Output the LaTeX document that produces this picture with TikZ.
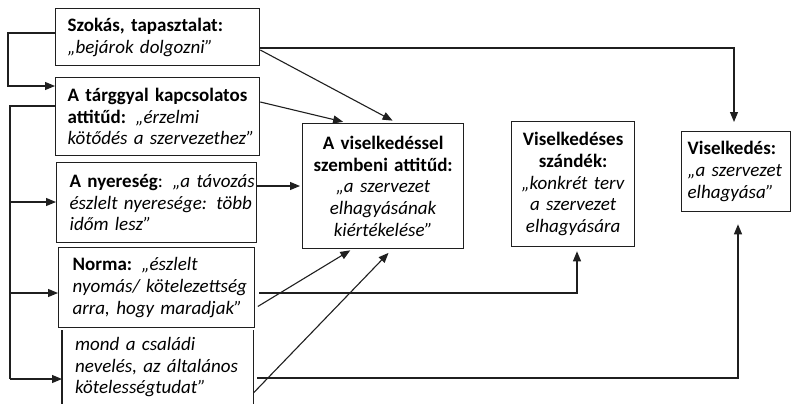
\documentclass[tikz,border=0pt]{standalone}
\usepackage{fontspec}
\setmainfont{Carlito}
\usetikzlibrary{arrows.meta}
\begin{document}
\begin{tikzpicture}[x=1pt,y=-1pt,
  txt/.style={font=\fontsize{19}{21.7}\selectfont, inner xsep=12pt, inner ysep=0pt, anchor=north west},
  box/.style={txt, draw=black!88, line width=1.3pt},
  lbox/.style={box, align=left},
  cbox/.style={box, align=center},
  edge/.style={draw=black!88, line width=1.3pt},
  link/.style={draw=black!88, line width=1.1pt},
  arr/.style={link, -{Triangle[length=10pt,width=8pt]}}
]
\useasboundingbox (0,0) rectangle (791,404);

% left column: the factors (each line kept whole in an \mbox)
\node[lbox, minimum width=204pt, minimum height=57pt, text width=180pt] (szokas) at (55,8)
  {\mbox{\textbf{Szokás, tapasztalat:}}\\\mbox{\textit{„bejárok dolgozni”}}};
\node[lbox, minimum width=204pt, minimum height=78pt, text width=180pt] (targy) at (55,77)
  {\mbox{\textbf{A tárggyal kapcsolatos}}\\\mbox{\textbf{attitűd:} \textit{„érzelmi}}\\\mbox{\textit{kötődés a szervezethez”}}};
\node[lbox, minimum width=200pt, minimum height=80pt, text width=174pt] (nyer) at (56,162)
  {\mbox{\textbf{A nyereség}: \textit{„a távozás}}\\\mbox{\textit{észlelt nyeresége: több}}\\\mbox{\textit{időm lesz”}}};
\node[lbox, minimum width=196pt, minimum height=80pt, text width=168pt] (norma) at (58,247)
  {\mbox{\textbf{Norma:} \textit{„észlelt}}\\\mbox{\textit{nyomás/ kötelezettség}}\\\mbox{\textit{arra, hogy maradjak”}}};
\node[txt, align=left, minimum width=191pt, minimum height=74pt, text width=165pt] (mond) at (62,330)
  {\mbox{\textit{mond a családi}}\\\mbox{\textit{nevelés, az általános}}\\\mbox{\textit{kötelességtudat”}}};
\draw[edge] (mond.north west) -- (mond.south west) (mond.north east) -- (mond.south east);

% middle and right: attitude, intention, behaviour
\node[cbox, minimum width=161pt, minimum height=125pt, text width=145pt, inner xsep=6pt] (center) at (302,123)
  {\textbf{A viselkedéssel}\\\textbf{szembeni attitűd:}\\\textit{„a szervezet}\\\textit{elhagyásának}\\\textit{kiértékelése”}};
\node[cbox, minimum width=123pt, minimum height=125pt, text width=115pt, inner xsep=4pt] (szandek) at (511,121)
  {\textbf{Viselkedéses}\\\textbf{szándék:}\\\textit{„konkrét terv}\\\textit{a szervezet}\\\textit{elhagyására}};
\node[lbox, minimum width=109pt, minimum height=80pt, text width=97pt, inner xsep=6pt] (visel) at (681,131)
  {\mbox{\textbf{Viselkedés:}}\\\mbox{\textit{„a szervezet}}\\\mbox{\textit{elhagyása”}}};

% trunk on the far left
\coordinate (h1) at (8,33);
\coordinate (h2) at (8,86);
\coordinate (t0) at (10,106);
\coordinate (t1) at (10,202);
\coordinate (t2) at (10,293);
\coordinate (t3) at (10,379);

\draw[arr] (szokas.west |- 0,33) -- (h1) -- (h2) -- (targy.west |- 0,86);
\draw[link] (targy.west |- 0,106) -- (t0) -- (t3);
\draw[arr] (t1) -- (nyer.west |- 0,202);
\draw[arr] (t2) -- (norma.west |- 0,293);
\draw[arr] (t3) -- (mond.west |- 0,379);

% links into the attitude box
\draw[arr, shorten >=5pt] (szokas.east |- 0,50) -- (center.north -| 397,0);
\draw[arr, shorten >=5pt] (targy.east |- 0,102) -- (center.north -| 348,0);
\draw[arr, shorten >=2pt] (nyer.east |- 0,186) -- (center.west |- 0,186);
\draw[arr, shorten >=2pt, shorten <=3pt] (norma.east |- 0,308) -- (center.south -| 352,0);
\draw[arr, shorten >=5pt] (mond.east |- 0,393) -- (center.south -| 392,0);

% direct links to intention and behaviour
\draw[arr, shorten >=9pt] (szokas.east |- 0,48) -| (visel.north -| 734,0);
\draw[arr, shorten >=4pt, shorten <=4pt] (norma.east |- 0,293) -| (szandek.south -| 577,0);
\draw[arr, shorten >=12pt, shorten <=4pt] (mond.east |- 0,378) -| (visel.south -| 738,0);
\end{tikzpicture}
\end{document}
